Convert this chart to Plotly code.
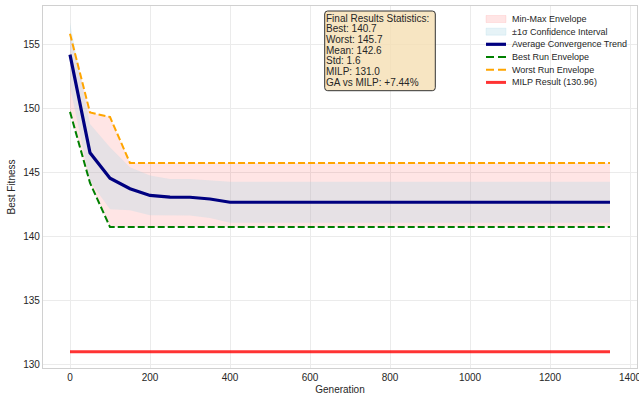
import plotly.graph_objects as go

# ---- data -------------------------------------------------------------
generations = list(range(0, 1351, 50))

avg_fitness = [154.17, 146.50, 144.52, 143.70, 143.17, 143.04, 143.03, 142.89, 142.64] + [142.64] * 19
std_fitness = [2.50, 2.25, 2.42, 1.68, 1.55, 1.42, 1.42, 1.48, 1.60] + [1.60] * 19
worst_run = [155.80, 149.65, 149.30] + [145.70] * 25
best_run = [149.70, 144.15] + [140.70] * 26
milp_value = 130.96

upper_sigma = [m + s for m, s in zip(avg_fitness, std_fitness)]
lower_sigma = [m - s for m, s in zip(avg_fitness, std_fitness)]
milp_line = [milp_value] * len(generations)

final_best = best_run[-1]
final_worst = worst_run[-1]
final_mean = avg_fitness[-1]
final_std = std_fitness[-1]
gap_pct = (final_best - milp_value) / milp_value * 100

stats_lines = [
    "Final Results Statistics:",
    f"Best: {final_best:.1f}",
    f"Worst: {final_worst:.1f}",
    f"Mean: {final_mean:.1f}",
    f"Std: {final_std:.1f}",
    f"MILP: {milp_value:.1f}",
    f"GA vs MILP: {gap_pct:+.2f}%",
]

# ---- styling ----------------------------------------------------------
FONT = "Liberation Sans, Arial, sans-serif"
TXT = "#262626"
PINK_FILL = "rgba(255,0,0,0.10)"
BLUE_FILL = "rgba(173,216,230,0.30)"
NAVY = "#000080"
GREEN = "#008000"
ORANGE = "#FFA500"
RED = "rgba(255,0,0,0.8)"

W, H = 639, 400
ML, MR, MT, MB = 43, 2, 6, 32
PW, PH = W - ML - MR, H - MT - MB


def px_x(x):
    return (x - ML) / PW


def px_y(y):
    return 1 - (y - MT) / PH


fig = go.Figure()

# min-max envelope
fig.add_trace(go.Scatter(x=generations, y=best_run, mode="lines",
                         line=dict(width=0, color=PINK_FILL), showlegend=False, hoverinfo="skip"))
fig.add_trace(go.Scatter(x=generations, y=worst_run, mode="lines", fill="tonexty",
                         fillcolor=PINK_FILL, line=dict(width=0, color=PINK_FILL),
                         name="Min-Max Envelope", showlegend=False))
# +/- 1 sigma band
fig.add_trace(go.Scatter(x=generations, y=lower_sigma, mode="lines",
                         line=dict(width=0, color=BLUE_FILL), showlegend=False, hoverinfo="skip"))
fig.add_trace(go.Scatter(x=generations, y=upper_sigma, mode="lines", fill="tonexty",
                         fillcolor=BLUE_FILL, line=dict(width=0, color=BLUE_FILL),
                         name="±1σ Confidence Interval", showlegend=False))
# lines
fig.add_trace(go.Scatter(x=generations, y=avg_fitness, mode="lines",
                         line=dict(color=NAVY, width=3.2), name="Average Convergence Trend",
                         showlegend=False))
fig.add_trace(go.Scatter(x=generations, y=best_run, mode="lines",
                         line=dict(color=GREEN, width=2, dash="7px,3px"), name="Best Run Envelope",
                         showlegend=False))
fig.add_trace(go.Scatter(x=generations, y=worst_run, mode="lines",
                         line=dict(color=ORANGE, width=2, dash="7px,3px"), name="Worst Run Envelope",
                         showlegend=False))
fig.add_trace(go.Scatter(x=generations, y=milp_line, mode="lines",
                         line=dict(color=RED, width=3), name=f"MILP Result ({milp_value:.2f})",
                         showlegend=False))

shapes = []
annotations = []

# statistics box (rounded)
bx0, bx1, by0, by1, r = 324.7, 435.3, 11.0, 90.7, 3.0
path = (f"M {px_x(bx0 + r)},{px_y(by0)} L {px_x(bx1 - r)},{px_y(by0)} "
        f"Q {px_x(bx1)},{px_y(by0)} {px_x(bx1)},{px_y(by0 + r)} "
        f"L {px_x(bx1)},{px_y(by1 - r)} Q {px_x(bx1)},{px_y(by1)} {px_x(bx1 - r)},{px_y(by1)} "
        f"L {px_x(bx0 + r)},{px_y(by1)} Q {px_x(bx0)},{px_y(by1)} {px_x(bx0)},{px_y(by1 - r)} "
        f"L {px_x(bx0)},{px_y(by0 + r)} Q {px_x(bx0)},{px_y(by0)} {px_x(bx0 + r)},{px_y(by0)} Z")
shapes.append(dict(type="path", xref="paper", yref="paper", path=path,
                   fillcolor="rgba(245,222,179,0.8)", line=dict(color="#333333", width=1),
                   layer="above"))
for i, line in enumerate(stats_lines):
    annotations.append(dict(x=px_x(325.0), y=px_y(18.3 + i * 10.67), xref="paper", yref="paper",
                            text=line, showarrow=False, xanchor="left", yanchor="middle",
                            borderpad=0, font=dict(family=FONT, size=10, color=TXT)))

# legend drawn by hand for compact spacing
legend_items = [
    ("patch", PINK_FILL, None, "Min-Max Envelope"),
    ("patch", BLUE_FILL, None, "±1σ Confidence Interval"),
    ("line", NAVY, ("solid", 3.2), "Average Convergence Trend"),
    ("line", GREEN, ("8px,4px", 2), "Best Run Envelope"),
    ("line", ORANGE, ("8px,4px", 2), "Worst Run Envelope"),
    ("line", RED, ("solid", 3), f"MILP Result ({milp_value:.2f})"),
]
lx0, lx1, tx = 486.0, 506.0, 510.8
legend_rows = [19.0, 31.7, 44.3, 57.0, 69.8, 82.4]
for (kind, color, style, label), yc in zip(legend_items, legend_rows):
    if kind == "patch":
        shapes.append(dict(type="rect", xref="paper", yref="paper",
                           x0=px_x(lx0), x1=px_x(lx1), y0=px_y(yc - 3.5), y1=px_y(yc + 3.5),
                           fillcolor=color, line=dict(color=color, width=0.8), layer="above"))
    else:
        shapes.append(dict(type="line", xref="paper", yref="paper",
                           x0=px_x(lx0), x1=px_x(lx1), y0=px_y(yc), y1=px_y(yc),
                           line=dict(color=color, width=style[1], dash=style[0]), layer="above"))
    annotations.append(dict(x=px_x(tx), y=px_y(yc), xref="paper", yref="paper", text=label,
                            showarrow=False, xanchor="left", yanchor="middle", borderpad=0,
                            font=dict(family=FONT, size=9, color=TXT)))

axis_common = dict(
    showgrid=True, gridcolor="#EBEBEB", gridwidth=1, zeroline=False,
    showline=True, mirror=True, linecolor="#D0D0D0", linewidth=1.3,
    ticks="", tickfont=dict(family=FONT, size=10, color=TXT),
    ticklabeloverflow="allow",
)

fig.update_layout(
    width=W, height=H,
    margin=dict(l=ML, r=MR, t=MT, b=MB, autoexpand=False),
    paper_bgcolor="white", plot_bgcolor="white",
    showlegend=False,
    font=dict(family=FONT, size=10, color=TXT),
    xaxis=dict(range=[-67.5, 1417.5], tickvals=list(range(0, 1401, 200)),
               title=dict(text="Generation", standoff=3, font=dict(family=FONT, size=10, color=TXT)),
               automargin=False, **axis_common),
    yaxis=dict(range=[129.69, 157.97], tickvals=[130, 135, 140, 145, 150, 155],
               title=dict(text="Best Fitness", standoff=5, font=dict(family=FONT, size=10, color=TXT)),
               automargin=False, **axis_common),
    shapes=shapes,
    annotations=annotations,
)

fig.write_html("out.html")
